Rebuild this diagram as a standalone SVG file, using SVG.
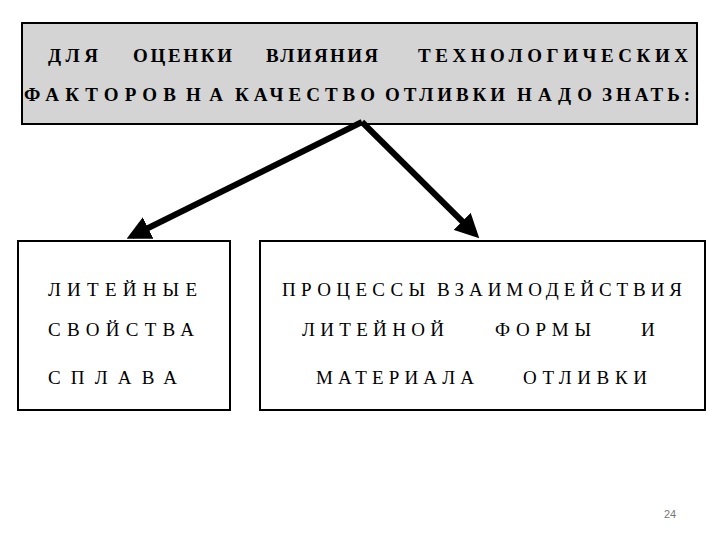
<svg xmlns="http://www.w3.org/2000/svg" width="720" height="540" viewBox="0 0 720 540">
<style>
text.b{font-family:"Liberation Serif","DejaVu Serif","Times New Roman",serif;font-size:19px;fill:#000}
text.h{font-weight:bold}
.box{fill:#fff;stroke:#000;stroke-width:2}
</style>
<defs><marker id="a" markerWidth="4" markerHeight="4" refX="3" refY="2" orient="auto"><path d="M0,0 L4,2 L0,4 Z" fill="#000"/></marker></defs>
<rect width="720" height="540" fill="#fff"/>
<g id="top"><rect x="22" y="23" width="675" height="101" fill="#d4d4d4" stroke="#000" stroke-width="2"/>
<text class="b h" x="48" y="62" textLength="50">ДЛЯ</text><text class="b h" x="133" y="62" textLength="99">ОЦЕНКИ</text><text class="b h" x="266" y="62" textLength="112">ВЛИЯНИЯ</text><text class="b h" x="418" y="62" textLength="270">ТЕХНОЛОГИЧЕСКИХ</text>
<text class="b h" x="24" y="101" textLength="152">ФАКТОРОВ</text><text class="b h" x="186" y="101" textLength="37">НА</text><text class="b h" x="235" y="101" textLength="140">КАЧЕСТВО</text><text class="b h" x="385" y="101" textLength="120">ОТЛИВКИ</text><text class="b h" x="517" y="101" textLength="75">НАДО</text><text class="b h" x="602" y="101" textLength="88">ЗНАТЬ:</text></g>
<g id="connectors" stroke="#000" stroke-width="6" fill="none"><line x1="362" y1="122" x2="132" y2="236" marker-end="url(#a)"/><line x1="362" y1="122" x2="475" y2="234" marker-end="url(#a)"/></g>
<g id="left"><rect class="box" x="18" y="241" width="212" height="169"/>
<text class="b" x="48" y="296" textLength="149">ЛИТЕЙНЫЕ</text><text class="b" x="48" y="336" textLength="146">СВОЙСТВА</text><text class="b" x="48" y="384" textLength="129">СПЛАВА</text></g>
<g id="right"><rect class="box" x="260" y="241" width="445" height="169"/>
<text class="b" x="282" y="296" textLength="143">ПРОЦЕССЫ</text><text class="b" x="437" y="296" textLength="245">ВЗАИМОДЕЙСТВИЯ</text>
<text class="b" x="302" y="336" textLength="142">ЛИТЕЙНОЙ</text><text class="b" x="495" y="336" textLength="96">ФОРМЫ</text><text class="b" x="641" y="336">И</text>
<text class="b" x="316" y="384" textLength="158">МАТЕРИАЛА</text><text class="b" x="523" y="384" textLength="124">ОТЛИВКИ</text></g>
<text x="664" y="518" font-family="Liberation Sans,sans-serif" font-size="11" fill="#777">24</text>
</svg>
